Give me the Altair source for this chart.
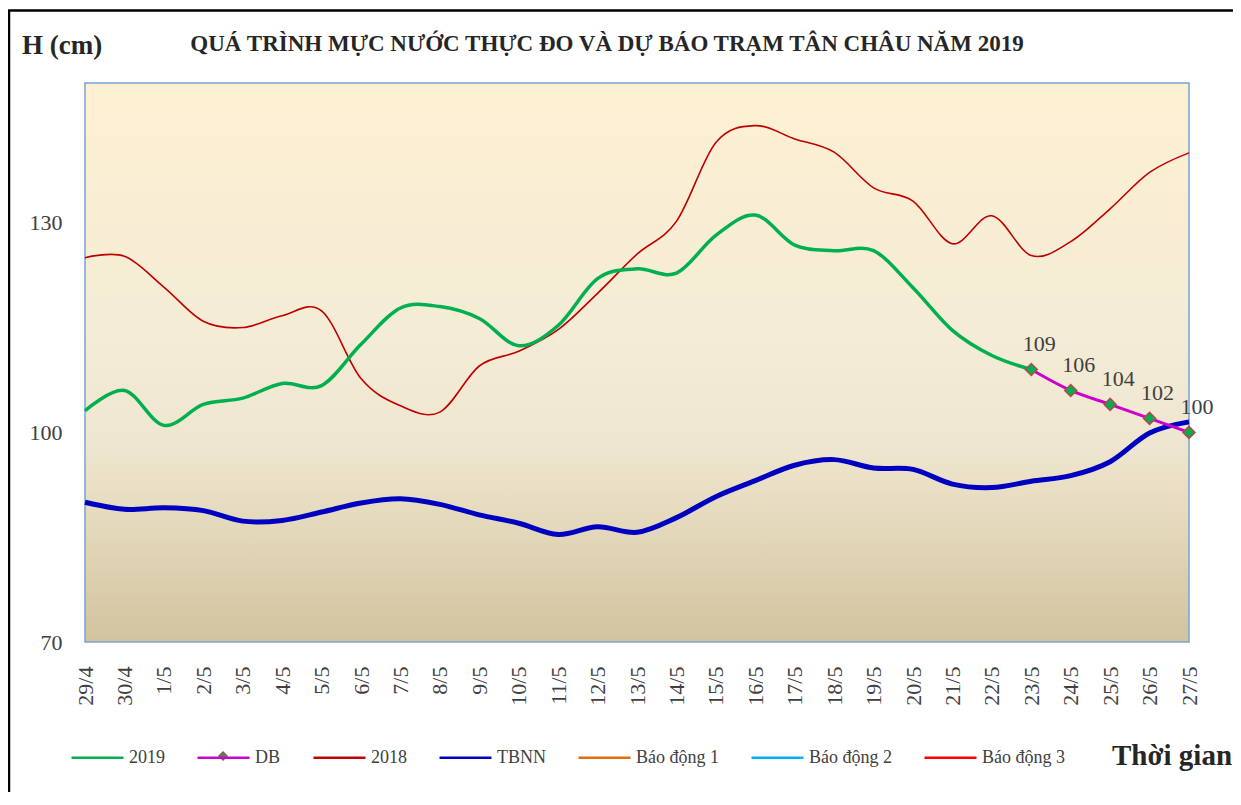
import altair as alt
import pandas as pd

FONT = "Liberation Serif"

dates = ["29/4", "30/4", "1/5", "2/5", "3/5", "4/5", "5/5", "6/5", "7/5", "8/5",
         "9/5", "10/5", "11/5", "12/5", "13/5", "14/5", "15/5", "16/5", "17/5",
         "18/5", "19/5", "20/5", "21/5", "22/5", "23/5", "24/5", "25/5", "26/5", "27/5"]

# 2019 observed (ends 23/5)
h2019 = [103.1, 106.0, 101.0, 104.0, 104.9, 107.0, 106.7, 112.6, 117.8, 118.0,
         116.3, 112.4, 115.3, 122.0, 123.4, 122.8, 128.2, 131.1, 126.8, 126.0,
         126.0, 120.7, 114.6, 111.0, 109.0]

# 2018
h2018 = [125.0, 125.2, 120.8, 115.9, 115.0, 116.7, 117.4, 107.7, 103.8, 102.9,
         109.5, 111.6, 114.7, 119.9, 125.5, 130.2, 141.5, 143.9, 142.0, 140.1,
         135.0, 133.1, 127.0, 131.0, 125.3, 127.3, 132.0, 137.2, 140.0]

# TBNN (multi-year average)
tbnn = [90.0, 89.0, 89.2, 88.8, 87.3, 87.4, 88.6, 89.9, 90.5, 89.7,
        88.2, 87.0, 85.4, 86.5, 85.7, 87.8, 90.8, 93.1, 95.3, 96.1,
        94.9, 94.7, 92.6, 92.1, 93.0, 93.8, 95.8, 99.9, 101.5]

# Forecast (DB)
db_dates = ["23/5", "24/5", "25/5", "26/5", "27/5"]
db_values = [109, 106, 104, 102, 100]

legend_names = ["2019", "DB", "2018", "TBNN", "Báo động 1", "Báo động 2", "Báo động 3"]
legend_colors = ["#00B050", "#CC00CC", "#C00000", "#0000C0", "#E46C0A", "#00B0F0", "#FF0000"]

rows = []
for d, v in zip(dates, h2019):
    rows.append({"date": d, "series": "2019", "value": v})
for d, v in zip(db_dates, db_values):
    rows.append({"date": d, "series": "DB", "value": v})
for d, v in zip(dates, h2018):
    rows.append({"date": d, "series": "2018", "value": v})
for d, v in zip(dates, tbnn):
    rows.append({"date": d, "series": "TBNN", "value": v})
df = pd.DataFrame(rows)

W, H = 1104, 559

x_enc = alt.X("date:O",
              scale=alt.Scale(type="point", padding=0, domain=dates),
              axis=alt.Axis(title=None, labelAngle=-90, labelFont=FONT, labelFontSize=22,
                            labelColor="#404040", labelPadding=24, domain=False,
                            ticks=False, grid=False, labelOverlap=False))
y_enc = alt.Y("value:Q",
              scale=alt.Scale(domain=[70, 150], nice=False, zero=False),
              axis=alt.Axis(title=None, values=[70, 100, 130], labelFont=FONT,
                            labelFontSize=22, labelColor="#404040", labelPadding=23,
                            domain=False, ticks=False, grid=False))
color_enc = alt.Color("series:N",
                      scale=alt.Scale(domain=legend_names, range=legend_colors),
                      legend=alt.Legend(title=None, orient="none", direction="horizontal",
                                        legendX=-15, legendY=647, symbolType="stroke",
                                        symbolSize=2704, symbolStrokeWidth=2.5,
                                        labelFont=FONT, labelFontSize=18,
                                        labelColor="#404040", labelOffset=4,
                                        columnPadding=27, padding=0))

one = alt.Data(values=[{}])

gradient = {
    "gradient": "linear", "x1": 0, "x2": 0, "y1": 0, "y2": 1,
    "stops": [
        {"offset": 0.0, "color": "#FEF0D2"},
        {"offset": 0.45, "color": "#F4ECD6"},
        {"offset": 0.65, "color": "#EEE6CF"},
        {"offset": 0.8, "color": "#E3D8BA"},
        {"offset": 1.0, "color": "#D2C3A0"},
    ],
}

bg = alt.Chart(one).mark_rect(fill=gradient, stroke="#7BA2D4", strokeWidth=1.5).encode(
    x=alt.value(0), x2=alt.value(W), y=alt.value(0), y2=alt.value(H))

top_rule = alt.Chart(one).mark_rule(color="black", strokeWidth=2.5).encode(
    x=alt.value(-77), x2=alt.value(1160), y=alt.value(-72.5))
left_rule = alt.Chart(one).mark_rule(color="black", strokeWidth=2.5).encode(
    x=alt.value(-76), y=alt.value(-72.5), y2=alt.value(730))


def line(series, width):
    return alt.Chart(df).transform_filter(alt.datum.series == series).mark_line(
        strokeWidth=width, interpolate="cardinal").encode(x=x_enc, y=y_enc, color=color_enc)


l2018 = line("2018", 1.6)
l2019 = line("2019", 3.5)
ltbnn = line("TBNN", 5)
ldb = line("DB", 3)

pdb = alt.Chart(df).transform_filter(alt.datum.series == "DB").mark_point(
    shape="diamond", filled=True, fill="#00B050", stroke="#B5494A", strokeWidth=1.5,
    size=144, opacity=1).encode(x=x_enc, y=y_enc)

tdb = alt.Chart(df).transform_filter(alt.datum.series == "DB").mark_text(
    font=FONT, fontSize=22, color="#404040", dx=8, dy=-18, baseline="alphabetic",
    align="center").encode(x=x_enc, y=y_enc, text=alt.Text("value:Q", format="d"))

ytitle = alt.Chart(one).mark_text(text="H (cm)", font=FONT, fontSize=27, fontWeight="bold",
                                  align="left", baseline="alphabetic", color="#262626").encode(
    x=alt.value(-63), y=alt.value(-29))
title = alt.Chart(one).mark_text(
    text="QUÁ TRÌNH MỰC NƯỚC THỰC ĐO VÀ DỰ BÁO TRẠM TÂN CHÂU NĂM 2019",
    font=FONT, fontSize=23, fontWeight="bold", align="center", baseline="alphabetic",
    color="#262626").encode(x=alt.value(522), y=alt.value(-32))
xtitle = alt.Chart(one).mark_text(text="Thời gian", font=FONT, fontSize=29, fontWeight="bold",
                                  align="left", baseline="alphabetic", color="#262626").encode(
    x=alt.value(1027), y=alt.value(682))

legend_diamond = alt.Chart(one).mark_point(
    shape="diamond", filled=True, fill="#00B050", stroke="#B5494A", strokeWidth=1.5,
    size=64, opacity=1).encode(x=alt.value(138), y=alt.value(673))

chart = alt.layer(
    bg, top_rule, left_rule, l2018, l2019, ltbnn, ldb, pdb, tdb,
    ytitle, title, xtitle, legend_diamond
).properties(
    width=W, height=H,
    autosize=alt.AutoSizeParams(type="none"),
    padding={"left": 77, "top": 75, "right": 44, "bottom": 150},
    background="white",
).configure_view(strokeWidth=0)

chart.save("out.html", embed_options={"renderer": "svg", "actions": False})
